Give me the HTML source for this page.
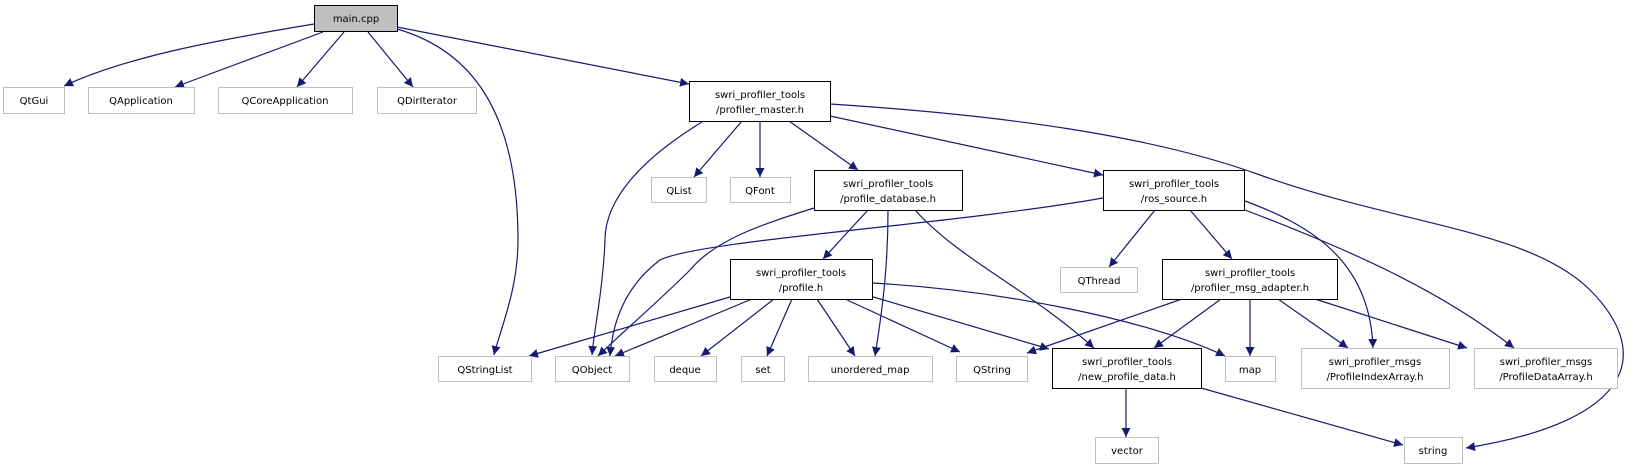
<!DOCTYPE html>
<html><head><meta charset="utf-8"><style>
body{margin:0;background:#fff}
svg text{font-family:"DejaVu Sans","Liberation Sans",sans-serif;font-size:10px;text-anchor:middle;fill:#000}
</style></head><body>
<svg width="1642" height="469" viewBox="0 0 1642 469" xmlns="http://www.w3.org/2000/svg">
<defs><marker id="a" viewBox="0 0 10 10" refX="10" refY="5" markerWidth="9" markerHeight="9" markerUnits="userSpaceOnUse" orient="auto"><path d="M0,0 L10,5 L0,10 z" fill="#191970"/></marker></defs>
<g fill="none" stroke="#191970" stroke-width="1.2" marker-end="url(#a)">
<path d="M314,24 C230,38 130,55 64,86"/>
<path d="M323,32 L175,87"/>
<path d="M344,32 L297,87"/>
<path d="M368,32 L413,87"/>
<path d="M397,29 C470,50 518,110 518,240 C518,290 500,330 494,355"/>
<path d="M397,27 L689,84"/>
<path d="M702,122 C640,160 605,200 605,240 C603,290 594,330 592,355"/>
<path d="M742,121 L694,177"/>
<path d="M760,121 L760,177"/>
<path d="M789,121 L858,170"/>
<path d="M830,116 L1103,175"/>
<path d="M830,104 C1000,115 1150,135 1260,175 C1400,225 1530,230 1590,290 C1650,350 1640,420 1466,448"/>
<path d="M814,208 C760,225 715,240 690,270 C660,300 625,330 598,356"/>
<path d="M868,210 L823,259"/>
<path d="M888,210 C888,260 884,300 875,356"/>
<path d="M915,210 C960,260 1030,290 1094,348"/>
<path d="M1103,198 C950,225 700,240 660,260 C620,290 612,330 610,356"/>
<path d="M1155,210 L1109,267"/>
<path d="M1190,210 L1232,259"/>
<path d="M1245,201 C1310,225 1370,260 1373,348"/>
<path d="M1245,210 C1350,250 1440,290 1514,348"/>
<path d="M730,297 L529,356"/>
<path d="M752,299 L615,356"/>
<path d="M774,299 L701,356"/>
<path d="M792,299 L767,356"/>
<path d="M817,299 L855,356"/>
<path d="M845,299 L960,352"/>
<path d="M870,296 L1049,349"/>
<path d="M872,283 C1000,290 1150,320 1225,356"/>
<path d="M1182,299 L1027,353"/>
<path d="M1221,299 L1154,348"/>
<path d="M1250,299 L1250,356"/>
<path d="M1278,299 L1348,348"/>
<path d="M1315,299 L1467,348"/>
<path d="M1126,388 L1126,437"/>
<path d="M1201,388 L1403,445"/>
</g>
<g stroke-width="1">
<rect x="314.5" y="5.5" width="83" height="26" fill="#bfbfbf" stroke="#000"/>
<g fill="#fff" stroke="#bfbfbf">
<rect x="3.5" y="87.5" width="61" height="26"/>
<rect x="88.5" y="87.5" width="106" height="26"/>
<rect x="218.5" y="87.5" width="134" height="26"/>
<rect x="377.5" y="87.5" width="99" height="26"/>
<rect x="651.5" y="177.5" width="55" height="25"/>
<rect x="730.5" y="177.5" width="60" height="25"/>
<rect x="1060.5" y="267.5" width="77" height="25"/>
<rect x="438.5" y="356.5" width="93" height="25"/>
<rect x="555.5" y="356.5" width="74" height="25"/>
<rect x="654.5" y="356.5" width="62" height="25"/>
<rect x="741.5" y="356.5" width="43" height="25"/>
<rect x="808.5" y="356.5" width="124" height="25"/>
<rect x="956.5" y="356.5" width="71" height="25"/>
<rect x="1225.5" y="356.5" width="50" height="25"/>
<rect x="1301.5" y="348.5" width="148" height="40"/>
<rect x="1474.5" y="348.5" width="143" height="40"/>
<rect x="1095.5" y="437.5" width="63" height="26"/>
<rect x="1404.5" y="437.5" width="58" height="26"/>
</g>
<g fill="#fff" stroke="#000">
<rect x="689.5" y="81.5" width="141" height="40"/>
<rect x="814.5" y="170.5" width="148" height="40"/>
<rect x="1103.5" y="170.5" width="141" height="40"/>
<rect x="730.5" y="259.5" width="142" height="40"/>
<rect x="1162.5" y="259.5" width="175" height="40"/>
<rect x="1052.5" y="348.5" width="149" height="40"/>
</g>
</g>
<text x="356" y="22">main.cpp</text>
<text x="34" y="104">QtGui</text>
<text x="141" y="104">QApplication</text>
<text x="285" y="104">QCoreApplication</text>
<text x="427" y="104">QDirIterator</text>
<text x="760" y="98">swri_profiler_tools</text><text x="760" y="113">/profiler_master.h</text>
<text x="679" y="194">QList</text>
<text x="760" y="194">QFont</text>
<text x="888" y="187">swri_profiler_tools</text><text x="888" y="202">/profile_database.h</text>
<text x="1174" y="187">swri_profiler_tools</text><text x="1174" y="202">/ros_source.h</text>
<text x="1099" y="284">QThread</text>
<text x="801" y="276">swri_profiler_tools</text><text x="801" y="291">/profile.h</text>
<text x="1250" y="276">swri_profiler_tools</text><text x="1250" y="291">/profiler_msg_adapter.h</text>
<text x="485" y="373">QStringList</text>
<text x="592" y="373">QObject</text>
<text x="685" y="373">deque</text>
<text x="763" y="373">set</text>
<text x="870" y="373">unordered_map</text>
<text x="992" y="373">QString</text>
<text x="1127" y="365">swri_profiler_tools</text><text x="1127" y="380">/new_profile_data.h</text>
<text x="1250" y="373">map</text>
<text x="1375" y="365">swri_profiler_msgs</text><text x="1375" y="380">/ProfileIndexArray.h</text>
<text x="1546" y="365">swri_profiler_msgs</text><text x="1546" y="380">/ProfileDataArray.h</text>
<text x="1127" y="454">vector</text>
<text x="1433" y="454">string</text>
</svg>
</body></html>
